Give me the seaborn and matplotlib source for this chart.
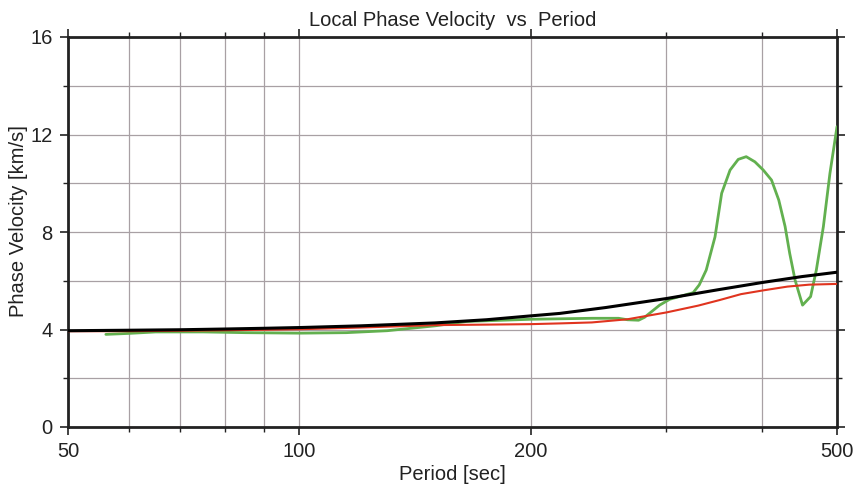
import matplotlib
matplotlib.use("Agg")
import matplotlib.pyplot as plt
import matplotlib.ticker as mticker
import seaborn as sns
import pandas as pd

# ---- data ----
black_period = [50, 60, 70, 80, 90, 100, 120, 150, 175, 200, 218, 250, 300, 350, 400, 450, 500]
black_vel = [3.95, 3.97, 3.99, 4.02, 4.05, 4.08, 4.15, 4.27, 4.4, 4.56, 4.66, 4.9, 5.27, 5.63, 5.93, 6.17, 6.35]

red_period = [50, 60, 70, 80, 90, 100, 120, 150, 175, 200, 218, 240, 267, 300, 330, 352, 375, 400, 431, 460, 500]
red_vel = [3.93, 3.93, 3.95, 3.97, 3.99, 4.01, 4.08, 4.18, 4.2, 4.22, 4.25, 4.29, 4.42, 4.7, 4.98, 5.21, 5.45, 5.6, 5.76, 5.84, 5.87]

green_period = [56, 60, 65, 75, 85, 100, 115, 130, 150, 165, 200, 240, 260, 267, 276, 281, 294, 303, 325, 331,
                338, 347, 354, 363, 372, 381, 391, 401, 411, 420, 428, 434, 441, 451, 462, 470, 480, 489.5, 500]
green_vel = [3.8, 3.84, 3.9, 3.9, 3.87, 3.85, 3.87, 3.95, 4.15, 4.33, 4.42, 4.46, 4.46, 4.4, 4.38, 4.5, 5.0, 5.24, 5.51, 5.83,
             6.44, 7.8, 9.59, 10.54, 10.98, 11.09, 10.88, 10.54, 10.13, 9.31, 8.23, 7.12, 6.03, 5.0, 5.35, 6.44, 8.22, 10.4, 12.32]

x_major = [50, 100, 200, 500]
x_minor = [60, 70, 80, 90, 300, 400]
y_major = [0, 4, 8, 12, 16]
y_minor = [2, 6, 10, 14]

sns.set_theme(style="white")
plt.rcParams['font.family'] = ['Liberation Sans', 'DejaVu Sans']

fig = plt.figure(figsize=(8.59, 4.88), dpi=100)
ax = fig.add_axes([68 / 859, 1 - 427 / 488, (837 - 68) / 859, (427 - 37) / 488])

sns.lineplot(x=green_period, y=green_vel, ax=ax, color="#62b04f", linewidth=2.0, estimator=None, sort=False, zorder=3)
sns.lineplot(x=red_period, y=red_vel, ax=ax, color="#e0341f", linewidth=1.5, estimator=None, sort=False, zorder=4)
sns.lineplot(x=black_period, y=black_vel, ax=ax, color="black", linewidth=2.2, estimator=None, sort=False, zorder=5)

ax.set_xscale("log")
ax.set_xlim(50, 500)
ax.set_ylim(0, 16)

ax.xaxis.set_major_locator(mticker.FixedLocator(x_major))
ax.xaxis.set_minor_locator(mticker.FixedLocator(x_minor))
ax.xaxis.set_major_formatter(mticker.FixedFormatter([str(v) for v in x_major]))
ax.xaxis.set_minor_formatter(mticker.NullFormatter())
ax.yaxis.set_major_locator(mticker.FixedLocator(y_major))
ax.yaxis.set_minor_locator(mticker.FixedLocator(y_minor))

ax.grid(True, which="both", axis="both", color="#a8a0a4", linewidth=0.9, zorder=0)
ax.set_axisbelow(True)

ax.tick_params(which="major", direction="out", length=6, width=1.2, color="#222222",
               labelsize=14.5, top=True, right=True, bottom=True, left=True,
               labeltop=False, labelright=False, pad=5, labelcolor="#222222")
ax.tick_params(which="minor", direction="out", length=3.5, width=1.0, color="#222222",
               top=True, right=True, bottom=True, left=True)

for s in ax.spines.values():
    s.set_visible(True)
    s.set_color("#222222")
    s.set_linewidth(2.0)

ax.set_title("Local Phase Velocity  vs  Period", fontsize=14.5, color="#222222", pad=8)
ax.set_xlabel("Period [sec]", fontsize=14.5, color="#222222", labelpad=3)
ax.set_ylabel("Phase Velocity [km/s]", fontsize=14.5, color="#222222")
ax.yaxis.set_label_coords(-0.052, 0.528)

fig.savefig("out.png", dpi=100)
